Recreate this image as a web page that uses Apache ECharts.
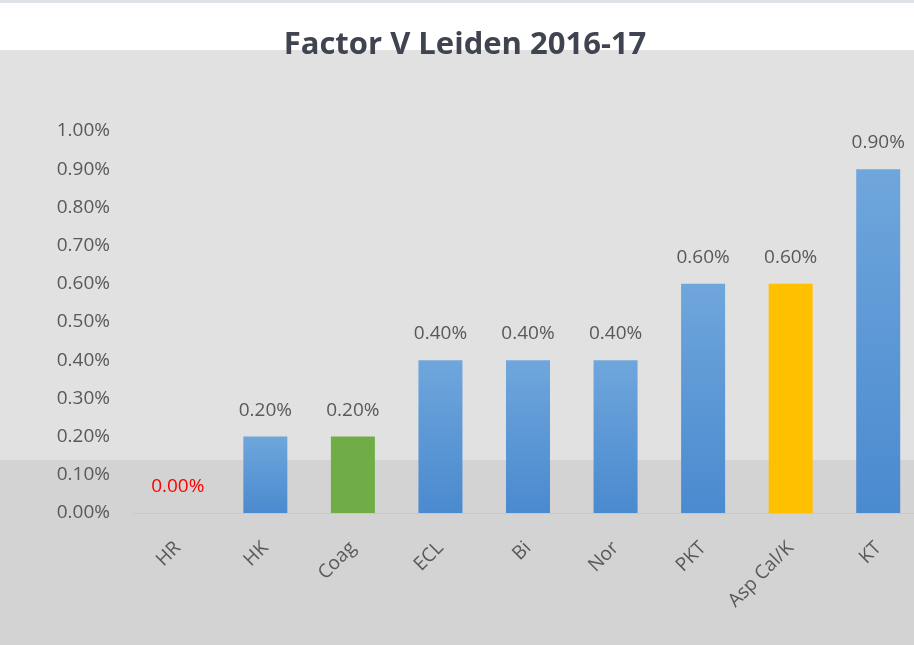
<!DOCTYPE html>
<html>
<head>
<meta charset="utf-8">
<script src="https://cdn.jsdelivr.net/npm/echarts@6/dist/echarts.min.js"></script>
<style>
html,body{margin:0;padding:0;background:#e1e1e1;overflow:hidden;}
#chart{width:930px;height:645px;}
</style>
</head>
<body>
<div id="chart"></div>
<script>
const titleText = 'Factor V Leiden 2016-17';
const categories = ['HR', 'HK', 'Coag', 'ECL', 'Bi', 'Nor', 'PKT', 'Asp Cal/K', 'KT'];
const values = [0.00, 0.20, 0.20, 0.40, 0.40, 0.40, 0.60, 0.60, 0.90];
const yTicks = [0, 0.1, 0.2, 0.3, 0.4, 0.5, 0.6, 0.7, 0.8, 0.9, 1.0];

const blueGrad = new echarts.graphic.LinearGradient(0, 0, 0, 1, [
  {offset: 0, color: '#6fa6dc'}, {offset: 1, color: '#4a8acf'}
]);
const barColors = [blueGrad, blueGrad, '#70ad47', blueGrad, blueGrad, blueGrad, blueGrad, '#ffc000', blueGrad];
const labelColors = ['#ff0000', '#595959', '#595959', '#595959', '#595959', '#595959', '#595959', '#595959', '#595959'];

const chart = echarts.init(document.getElementById('chart'), null, {renderer: 'canvas'});
const font = 'Open Sans';
chart.setOption({
  backgroundColor: '#e1e1e1',
  animation: false,
  graphic: [
    {type: 'rect', z: -10, shape: {x: 0, y: 0, width: 930, height: 50}, style: {fill: '#ffffff'}},
    {type: 'rect', z: -10, shape: {x: 0, y: 0, width: 930, height: 3}, style: {fill: '#dfe2e6'}},
    {type: 'rect', z: -10, shape: {x: 0, y: 460, width: 930, height: 185}, style: {fill: '#d3d3d3'}}
  ],
  title: {
    text: titleText,
    left: 'center',
    top: 25,
    textStyle: {fontFamily: font, fontSize: 31, fontWeight: 'bold', color: '#3f4450'}
  },
  grid: {left: 134, top: 131, right: 8, bottom: 132, containLabel: false},
  xAxis: {
    type: 'category',
    data: categories,
    axisLine: {show: true, lineStyle: {color: '#c8c8c8'}},
    axisTick: {show: false},
    axisLabel: {rotate: 45, interval: 0, margin: 32, fontFamily: font, fontSize: 19, color: '#595959'}
  },
  yAxis: {
    type: 'value',
    min: 0,
    max: 1.0,
    interval: 0.1,
    splitLine: {show: false},
    axisLine: {show: false},
    axisTick: {show: false},
    axisLabel: {
      margin: 24,
      fontFamily: font, fontSize: 19, color: '#595959',
      formatter: v => v.toFixed(2) + '%'
    }
  },
  series: [{
    type: 'bar',
    barWidth: 44,
    data: values.map((v, i) => ({
      value: v,
      itemStyle: {color: barColors[i]},
      label: {color: labelColors[i]}
    })),
    label: {
      show: true,
      position: 'top',
      distance: 17,
      fontFamily: font,
      fontSize: 19,
      formatter: p => p.value.toFixed(2) + '%'
    }
  }]
});
</script>
</body>
</html>
